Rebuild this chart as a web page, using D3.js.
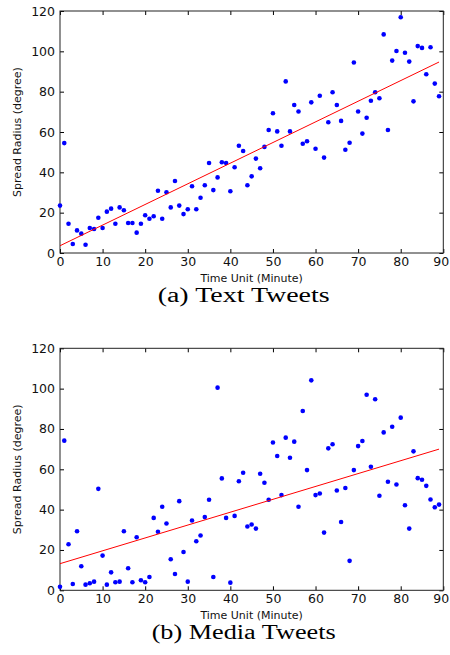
<!DOCTYPE html>
<html>
<head>
<meta charset="utf-8">
<script src="https://cdn.jsdelivr.net/npm/d3@7"></script>
<style>
  html, body { margin: 0; padding: 0; background: #fff; }
  svg { display: block; }
</style>
</head>
<body>
<div id="chart"></div>
<script>
// ---- data ---------------------------------------------------------------
const minutes = [
  0, 1, 2, 3, 4, 5, 6, 7, 8, 9, 10, 11, 12, 13, 14, 15, 16, 17, 18, 19,
  20, 21, 22, 23, 24, 25, 26, 27, 28, 29, 30, 31, 32, 33, 34, 35, 36, 37, 38, 39,
  40, 41, 42, 43, 44, 45, 46, 47, 48, 49, 50, 51, 52, 53, 54, 55, 56, 57, 58, 59,
  60, 61, 62, 63, 64, 65, 66, 67, 68, 69, 70, 71, 72, 73, 74, 75, 76, 77, 78, 79,
  80, 81, 82, 83, 84, 85, 86, 87, 88, 89
];

const textRadius = [
  23.5, 54.5, 14.5, 4.5, 11.2, 9.6, 4.1, 12.4, 11.9, 17.5,
  12.4, 20.5, 22.0, 14.5, 22.6, 21.2, 14.9, 14.9, 10.1, 14.5,
  18.7, 17.0, 18.2, 30.9, 17.0, 30.1, 22.6, 35.7, 23.5, 19.3,
  21.7, 33.1, 21.7, 27.4, 33.6, 44.6, 31.2, 37.5, 45.0, 44.6,
  30.6, 42.5, 53.2, 50.6, 33.6, 38.0, 46.8, 42.0, 52.6, 61.0,
  69.3, 60.3, 53.2, 85.1, 60.3, 73.4, 70.2, 54.2, 55.4, 74.7,
  51.7, 78.0, 47.3, 64.8, 79.7, 73.4, 65.5, 51.2, 54.7, 94.5,
  70.2, 59.2, 67.1, 75.5, 79.7, 76.7, 108.4, 61.0, 95.4, 100.2,
  116.9, 99.3, 94.9, 75.2, 102.6, 101.7, 88.6, 102.0, 84.0, 77.7
];

const mediaRadius = [
  1.7, 74.2, 22.8, 3.1, 29.3, 11.9, 2.8, 3.5, 4.3, 50.3,
  17.2, 2.8, 8.9, 4.0, 4.3, 29.3, 10.9, 4.0, 26.3, 5.0,
  4.0, 6.6, 35.9, 29.0, 41.4, 33.1, 15.4, 8.1, 44.2, 19.0,
  4.3, 34.6, 24.3, 27.2, 36.3, 44.9, 6.6, 100.5, 55.5, 35.9,
  3.8, 36.9, 54.1, 58.3, 31.6, 32.6, 30.6, 57.8, 53.3, 44.9,
  73.3, 66.6, 47.2, 75.7, 65.7, 73.7, 41.4, 88.9, 59.6, 104.1,
  47.2, 48.0, 28.6, 70.4, 72.4, 49.5, 33.9, 50.7, 14.6, 59.6,
  71.5, 74.0, 97.0, 61.3, 94.7, 46.9, 78.3, 53.8, 81.1, 52.5,
  85.6, 42.2, 30.6, 68.9, 55.6, 54.8, 51.8, 45.0, 41.2, 42.5
];

// fitted trend lines: [minute, radius] at both ends
const textFit = [[0, 3.6], [89, 94.7]];
const mediaFit = [[0, 13.2], [89, 70.0]];

const xTicks = [0, 10, 20, 30, 40, 50, 60, 70, 80, 90];
const yTicks = [0, 20, 40, 60, 80, 100, 120];

const xLabel = 'Time Unit (Minute)';
const yLabel = 'Spread Radius (degree)';
const captions = ['(a) Text Tweets', '(b) Media Tweets'];

(function () {
  'use strict';

  const W = 450, H = 655;
  const sans = '"DejaVu Sans", sans-serif';

  const svg = d3.select('#chart').append('svg')
    .attr('width', W)
    .attr('height', H);

  // one matplotlib-style panel: boxed axes, inward ticks on all sides
  function panel({ top, values, fit, caption, captionWidth }) {
    const left = 60, right = 443.3, plotH = 242;
    const bottom = top + plotH;

    const x = d3.scaleLinear().domain([0, 90]).range([left, right]);
    const y = d3.scaleLinear().domain([0, 120]).range([bottom, top]);

    const g = svg.append('g');

    const styleAxis = sel => {
      sel.select('.domain').remove();
      sel.selectAll('line').attr('stroke', '#000').attr('stroke-width', 1);
      sel.selectAll('text')
        .attr('fill', '#111')
        .style('font-family', sans)
        .style('font-size', '12.5px');
    };

    g.append('g')
      .attr('transform', `translate(0,${bottom})`)
      .call(d3.axisBottom(x).tickValues(xTicks).tickSizeInner(-4).tickSizeOuter(0).tickPadding(4))
      .call(styleAxis)
      // the last label sits on the page edge, nudge it inside like the original
      .call(sel => sel.selectAll('.tick text').filter(d => d === 90).attr('dx', -2.5));

    g.append('g')
      .attr('transform', `translate(0,${top})`)
      .call(d3.axisTop(x).tickValues(xTicks).tickSizeInner(-4).tickSizeOuter(0).tickFormat(''))
      .call(styleAxis);

    g.append('g')
      .attr('transform', `translate(${left},0)`)
      .call(d3.axisLeft(y).tickValues(yTicks).tickSizeInner(-4).tickSizeOuter(0).tickPadding(5))
      .call(styleAxis);

    g.append('g')
      .attr('transform', `translate(${right},0)`)
      .call(d3.axisRight(y).tickValues(yTicks).tickSizeInner(-4).tickSizeOuter(0).tickFormat(''))
      .call(styleAxis);

    // frame
    g.append('rect')
      .attr('x', left).attr('y', top)
      .attr('width', right - left).attr('height', plotH)
      .attr('fill', 'none')
      .attr('stroke', '#222')
      .attr('stroke-width', 1);

    // scatter
    g.append('g')
      .selectAll('circle')
      .data(minutes.map((m, i) => [m, values[i]]))
      .join('circle')
      .attr('cx', d => x(d[0]))
      .attr('cy', d => y(d[1]))
      .attr('r', 2.3)
      .attr('fill', '#0000ff');

    // trend line
    g.append('path')
      .datum(fit)
      .attr('d', d3.line().x(d => x(d[0])).y(d => y(d[1])))
      .attr('fill', 'none')
      .attr('stroke', '#ff0000')
      .attr('stroke-width', 1);

    // axis titles
    g.append('text')
      .attr('x', (left + right) / 2)
      .attr('y', bottom + 28.5)
      .attr('text-anchor', 'middle')
      .attr('fill', '#111')
      .style('font-family', sans)
      .style('font-size', '11px')
      .text(xLabel);

    g.append('text')
      .attr('transform', `translate(20.5,${top + plotH / 2}) rotate(-90)`)
      .attr('text-anchor', 'middle')
      .attr('fill', '#111')
      .style('font-family', sans)
      .style('font-size', '11px')
      .text(yLabel);

    // caption under the panel
    g.append('text')
      .attr('x', (left + right) / 2 - 8)
      .attr('y', bottom + 48.5)
      .attr('text-anchor', 'middle')
      .attr('textLength', captionWidth)
      .attr('lengthAdjust', 'spacingAndGlyphs')
      .attr('fill', '#000')
      .style('font-family', '"Liberation Serif", serif')
      .style('font-size', '20px')
      .text(caption);
  }

  panel({ top: 11, values: textRadius, fit: textFit, caption: captions[0], captionWidth: 172 });
  panel({ top: 348.3, values: mediaRadius, fit: mediaFit, caption: captions[1], captionWidth: 184 });
})();
</script>
</body>
</html>
